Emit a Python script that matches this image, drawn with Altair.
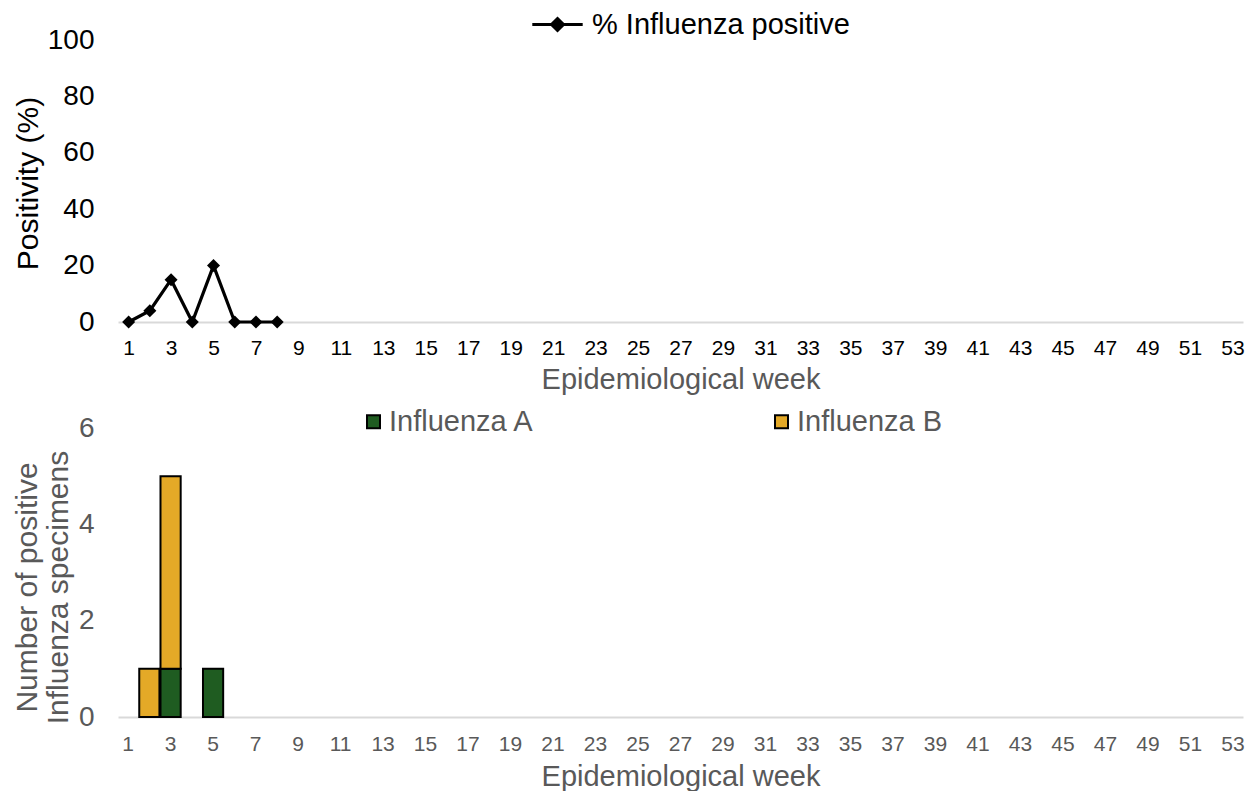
import altair as alt
import pandas as pd

FONT = "Liberation Sans"

# ---- data ----
weeks = list(range(1, 54))
week_ticks = list(range(1, 54, 2))

pos_weeks = [1, 2, 3, 4, 5, 6, 7, 8]
pos_values = [0, 4, 15, 0, 20, 0, 0, 0]
pos_series = "% Influenza positive"

bar_weeks = [2, 3, 3, 5]
bar_types = ["Influenza B", "Influenza A", "Influenza B", "Influenza A"]
bar_counts = [1, 1, 4, 1]

flu_types = ["Influenza A", "Influenza B"]
flu_colors = ["#1f5c21", "#e4a927"]

top_ticks = [0, 20, 40, 60, 80, 100]
bottom_ticks = [0, 2, 4, 6]

line_df = pd.DataFrame({"week": pos_weeks, "pct": pos_values, "series": [pos_series] * len(pos_weeks)})
bar_df = pd.DataFrame({"week": bar_weeks, "type": bar_types, "count": bar_counts})

PLOT_W = 1125
GRAY = "#595959"

def x_axis(label_color, label_pad, title_pad):
    return alt.Axis(
        values=week_ticks, title="Epidemiological week", labelAngle=0, ticks=False,
        domainColor="#d9d9d9", domainWidth=2, labelColor=label_color, labelFontSize=21,
        labelPadding=label_pad, titleColor=GRAY, titleFontSize=29, titleFontWeight="normal",
        titlePadding=title_pad, labelFont=FONT, titleFont=FONT, grid=False,
    )

# ---- top: positivity line ----
x_top = alt.X("week:O", scale=alt.Scale(type="point", domain=weeks, padding=0.5),
              axis=x_axis("black", 15, 7))
y_top = alt.Y(
    "pct:Q", scale=alt.Scale(domain=[0, 100]),
    axis=alt.Axis(values=top_ticks, title="Positivity (%)", grid=False, domain=False, ticks=False,
                  labelFontSize=28, labelColor="black", labelPadding=24, labelFont=FONT,
                  titleFont=FONT, titleFontSize=30, titleColor="black", titleFontWeight="normal",
                  titleBaseline="middle", titleX=-90, titleY=143),
)

line = alt.Chart(line_df).mark_line(color="black", strokeWidth=3.2).encode(x=x_top, y=y_top)
points = alt.Chart(line_df).mark_point(shape="diamond", filled=True, size=170, opacity=1).encode(
    x=x_top, y=y_top,
    color=alt.Color("series:N", scale=alt.Scale(domain=[pos_series], range=["black"]),
                    legend=alt.Legend(orient="none", legendX=406, legendY=-30, title=None,
                                      symbolType="M-4.2,0L4.2,0M0,-1L1,0L0,1L-1,0Z", symbolSize=144,
                                      symbolStrokeColor="black", symbolStrokeWidth=3,
                                      symbolFillColor="black", symbolOffset=19, labelOffset=20,
                                      labelLimit=500, labelFontSize=29, labelColor="black",
                                      labelFont=FONT)),
)
top = alt.layer(line, points).properties(width=PLOT_W, height=282)

# ---- bottom: stacked bars ----
x_bot = alt.X("week:O", scale=alt.Scale(type="band", domain=weeks, paddingInner=0.05, paddingOuter=0),
              axis=x_axis(GRAY, 16, 8))
y_bot = alt.Y(
    "count:Q", stack="zero", scale=alt.Scale(domain=[0, 6]),
    axis=alt.Axis(values=bottom_ticks, title=["Number of positive", "Influenza specimens"], grid=False,
                  domain=False, ticks=False, labelFontSize=28, labelColor=GRAY, labelPadding=24,
                  labelFont=FONT, titleFont=FONT, titleFontSize=30, titleColor=GRAY,
                  titleFontWeight="normal", titleBaseline="middle", titleX=-91, titleY=159,
                  titleLineHeight=31),
)
bars = alt.Chart(bar_df).mark_bar(stroke="black", strokeWidth=2).encode(
    x=x_bot, y=y_bot,
    color=alt.Color("type:N", scale=alt.Scale(domain=flu_types, range=flu_colors),
                    legend=alt.Legend(orient="none", legendX=241, legendY=-21, title=None,
                                      direction="horizontal", columns=2, columnPadding=232,
                                      symbolType="square", symbolSize=169, symbolStrokeColor="black",
                                      symbolStrokeWidth=2, labelOffset=1, labelFontSize=29,
                                      labelLimit=500, labelColor=GRAY, labelFont=FONT)),
    order=alt.Order("type:N", sort="ascending"),
).properties(width=PLOT_W, height=289)

chart = alt.vconcat(top, bars, spacing=13).resolve_scale(color="independent").resolve_legend(
    color="independent"
).properties(padding={"left": 4, "top": 2, "right": 0, "bottom": 0}).configure_view(stroke=None)

chart.save("out.html", embed_options={"renderer": "svg", "actions": False})
